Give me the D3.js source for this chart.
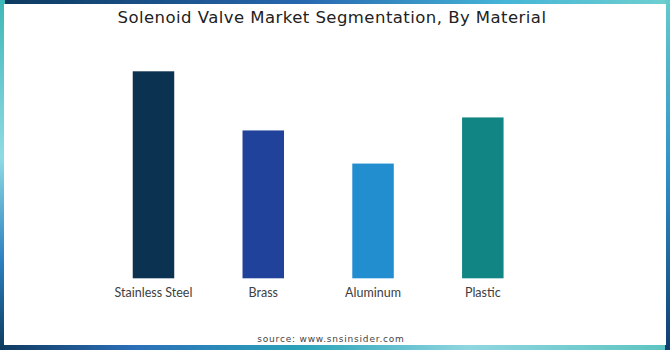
<!DOCTYPE html>
<html>
<head>
<meta charset="utf-8">
<script src="https://cdn.jsdelivr.net/npm/d3@7/dist/d3.min.js"></script>
<style>
  html, body { margin: 0; padding: 0; background: #fff; }
  svg { display: block; }
</style>
</head>
<body>
<svg id="chart" width="670" height="350"></svg>
<script>
// Market segmentation by material (relative share)
const materials = ["Stainless Steel", "Brass", "Aluminum", "Plastic"];
const shares = [35, 25, 19.4, 27.2];
const barColors = ["#0c3252", "#21429b", "#228ecf", "#108583"];

const W = 670, H = 350;
const svg = d3.select("#chart");
const defs = svg.append("defs");

function grad(id, x2, y2, stops) {
  const g = defs.append("linearGradient").attr("id", id)
    .attr("x1", 0).attr("y1", 0).attr("x2", x2).attr("y2", y2);
  stops.forEach(([o, c]) => g.append("stop").attr("offset", o).attr("stop-color", c));
}
grad("gTop", 1, 0, [[0, "#0d3a5e"], [0.45, "#2767b0"], [0.75, "#45b4d6"], [1, "#6fd0cf"]]);
grad("gBottom", 1, 0, [[0, "#0f3a60"], [0.2, "#2b6fb8"], [0.45, "#2aa3b8"], [0.7, "#8fd6e0"], [1, "#5cc3c0"]]);
grad("gLeft", 0, 1, [[0, "#3fb7b8"], [0.45, "#8fdbe4"], [0.75, "#2a7fc0"], [1, "#0d3a5e"]]);
grad("gRight", 0, 1, [[0, "#63cbcc"], [0.5, "#2f8fc8"], [1, "#113d6e"]]);

// frame
svg.append("rect").attr("x", 0).attr("y", 0).attr("width", W).attr("height", H).attr("fill", "#2a8fc0");
svg.append("rect").attr("x", 0).attr("y", 0).attr("width", W).attr("height", 5).attr("fill", "url(#gTop)");
svg.append("rect").attr("x", 0).attr("y", 344).attr("width", W).attr("height", 6).attr("fill", "url(#gBottom)");
svg.append("rect").attr("x", 0).attr("y", 0).attr("width", 5).attr("height", H).attr("fill", "url(#gLeft)");
svg.append("rect").attr("x", 665).attr("y", 0).attr("width", 5).attr("height", H).attr("fill", "url(#gRight)");
svg.append("rect").attr("x", 4).attr("y", 4).attr("width", 662).attr("height", 341).attr("fill", "#ffffff");

// title
svg.append("text")
  .attr("x", 332).attr("y", 23)
  .attr("text-anchor", "middle")
  .attr("font-family", "'DejaVu Sans', sans-serif")
  .attr("font-size", 16.5)
  .attr("letter-spacing", 0.45)
  .attr("fill", "#222")
  .text("Solenoid Valve Market Segmentation, By Material");

// scales
const x = d3.scaleBand().domain(materials).range([98.6, 537.7]).paddingInner(0.622).paddingOuter(0.311);
const y = d3.scaleLinear().domain([0, 35]).range([278.3, 71.3]);

svg.append("g").selectAll("rect")
  .data(materials)
  .join("rect")
  .attr("x", d => x(d))
  .attr("width", x.bandwidth())
  .attr("y", (d, i) => y(shares[i]))
  .attr("height", (d, i) => y(0) - y(shares[i]))
  .attr("fill", (d, i) => barColors[i]);

const axis = svg.append("g")
  .attr("transform", `translate(0,${y(0)})`)
  .call(d3.axisBottom(x).tickSize(0).tickPadding(10));
axis.select(".domain").remove();
axis.selectAll("text")
  .attr("font-family", "Lato, 'Open Sans', sans-serif")
  .attr("font-size", 12.5)
  .attr("fill", "#404040");

// source
svg.append("text")
  .attr("x", 331).attr("y", 342)
  .attr("text-anchor", "middle")
  .attr("font-family", "'DejaVu Sans', sans-serif")
  .attr("font-size", 9)
  .attr("letter-spacing", 0.8)
  .attr("fill", "#444")
  .text("source: www.snsinsider.com");
</script>
</body>
</html>
